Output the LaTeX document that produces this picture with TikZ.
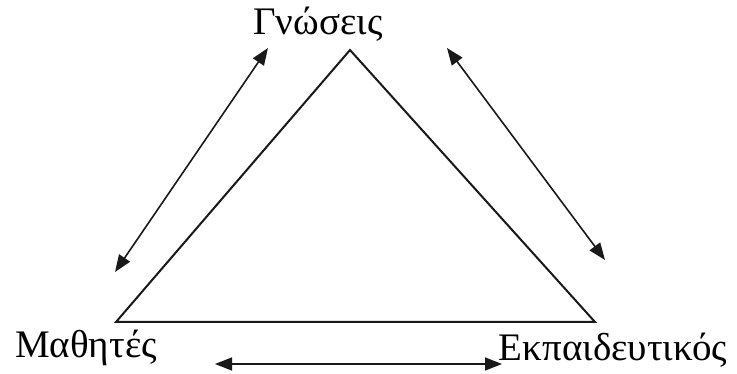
\documentclass[tikz,border=0pt]{standalone}
\usepackage{fontspec}
\setmainfont{Liberation Serif}
\usetikzlibrary{arrows.meta}
\begin{document}
\begin{tikzpicture}[x=1pt,y=-1pt,
  lbl/.style={font=\fontsize{39}{41}\selectfont, inner sep=0pt, anchor=base, text=black},
  tri/.style={draw=black!90, line width=2pt, line join=miter},
  dbl/.style={draw=black!90, line width=1.6pt, {Triangle[length=17pt,width=13pt]}-{Triangle[length=17pt,width=13pt]}}]
\useasboundingbox (0,0) rectangle (737,374);
\coordinate (A) at (350,50);
\coordinate (B) at (116,322);
\coordinate (C) at (595,322);
\draw[tri] (A) -- (B) -- (C) -- cycle;
\node[lbl] (g) at (318,35) {Γνώσεις};
\node[lbl] (m) at (86,358) {Μαθητές};
\node[lbl] (e) at (613,360) {Εκπαιδευτικός};
\coordinate (l1) at (268,48);
\coordinate (l2) at (115,272);
\coordinate (r1) at (447,48);
\coordinate (r2) at (605,260);
\coordinate (b1) at (215,364);
\coordinate (b2) at (502,364);
\draw[dbl] (l1) -- (l2);
\draw[dbl] (r1) -- (r2);
\draw[dbl] (b1) -- (b2);
\end{tikzpicture}
\end{document}
